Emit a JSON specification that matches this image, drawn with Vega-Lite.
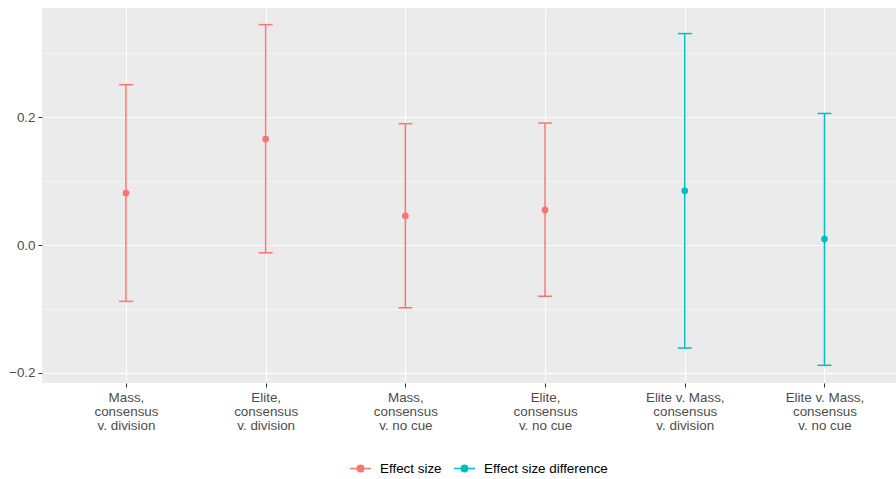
{
  "$schema": "https://vega.github.io/schema/vega-lite/v6.json",
  "width": 854,
  "height": 375,
  "autosize": {"type": "none"},
  "padding": {"left": 42, "top": 8, "right": 0, "bottom": 96},
  "background": "white",
  "config": {
    "view": {"stroke": null, "fill": "#EBEBEB"},
    "font": "Liberation Sans",
    "axis": {
      "domain": false,
      "gridColor": "white",
      "labelFont": "Liberation Sans",
      "labelFontSize": 13.4,
      "labelColor": "#4D4D4D",
      "tickColor": "#333333",
      "tickSize": 4,
      "tickWidth": 1,
      "title": null
    }
  },
  "data": {
    "values": [
      {"label": "Mass,\nconsensus\nv. division", "type": "Effect size", "est": 0.0815, "lo": -0.088, "hi": 0.251},
      {"label": "Elite,\nconsensus\nv. division", "type": "Effect size", "est": 0.166, "lo": -0.012, "hi": 0.345},
      {"label": "Mass,\nconsensus\nv. no cue", "type": "Effect size", "est": 0.046, "lo": -0.098, "hi": 0.190},
      {"label": "Elite,\nconsensus\nv. no cue", "type": "Effect size", "est": 0.055, "lo": -0.080, "hi": 0.191},
      {"label": "Elite v. Mass,\nconsensus\nv. division", "type": "Effect size difference", "est": 0.085, "lo": -0.161, "hi": 0.331},
      {"label": "Elite v. Mass,\nconsensus\nv. no cue", "type": "Effect size difference", "est": 0.0094, "lo": -0.188, "hi": 0.206}
    ]
  },
  "encoding": {
    "x": {
      "field": "label",
      "type": "nominal",
      "sort": null,
      "scale": {"type": "point", "padding": 0.5566, "align": 0.54},
      "axis": {
        "grid": true,
        "gridWidth": 1.1,
        "labelAngle": 0,
        "labelExpr": "split(datum.label, '\\n')",
        "labelLineHeight": 14.3,
        "labelPadding": 3,
        "labelBaseline": "top"
      }
    },
    "color": {
      "field": "type",
      "type": "nominal",
      "scale": {"domain": ["Effect size", "Effect size difference"], "range": ["#F8766D", "#00BFC4"]},
      "legend": {
        "title": null,
        "orient": "none",
        "legendX": 307,
        "legendY": 449,
        "padding": 0,
        "direction": "horizontal",
        "symbolType": "M-1,0L1,0M-0.31,0A0.31,0.31,0,1,1,0.31,0A0.31,0.31,0,1,1,-0.31,0Z",
        "symbolSize": 441,
        "symbolStrokeWidth": 1.5,
        "labelFontSize": 13.4,
        "labelColor": "black",
        "labelFont": "Liberation Sans",
        "labelOffset": 8,
        "columnPadding": 9,
        "encode": {
          "symbols": {"update": {"stroke": {"scale": "color", "field": "value"}, "fill": {"scale": "color", "field": "value"}, "opacity": {"value": 1}}}
        }
      }
    }
  },
  "layer": [
    {
      "mark": {"type": "rule", "strokeWidth": 1.5},
      "encoding": {
        "y": {
          "field": "lo",
          "type": "quantitative",
          "scale": {"domain": [-0.2157, 0.371], "nice": false, "zero": false},
          "axis": {
            "values": [-0.2, -0.1, 0, 0.1, 0.2, 0.3],
            "format": ".1f",
            "grid": true,
            "gridWidth": {"condition": {"test": "abs(round(datum.value*10)) % 2 == 0", "value": 1.1}, "value": 0.55},
            "tickOpacity": {"condition": {"test": "abs(round(datum.value*10)) % 2 == 0", "value": 1}, "value": 0},
            "labelExpr": "abs(round(datum.value*10)) % 2 == 0 ? datum.label : ''",
            "labelPadding": 3
          }
        },
        "y2": {"field": "hi"}
      }
    },
    {
      "mark": {"type": "tick", "size": 14, "thickness": 1.5, "opacity": 1},
      "encoding": {"y": {"field": "lo", "type": "quantitative"}}
    },
    {
      "mark": {"type": "tick", "size": 14, "thickness": 1.5, "opacity": 1},
      "encoding": {"y": {"field": "hi", "type": "quantitative"}}
    },
    {
      "mark": {"type": "circle", "size": 45, "opacity": 1},
      "encoding": {"y": {"field": "est", "type": "quantitative"}}
    }
  ]
}
